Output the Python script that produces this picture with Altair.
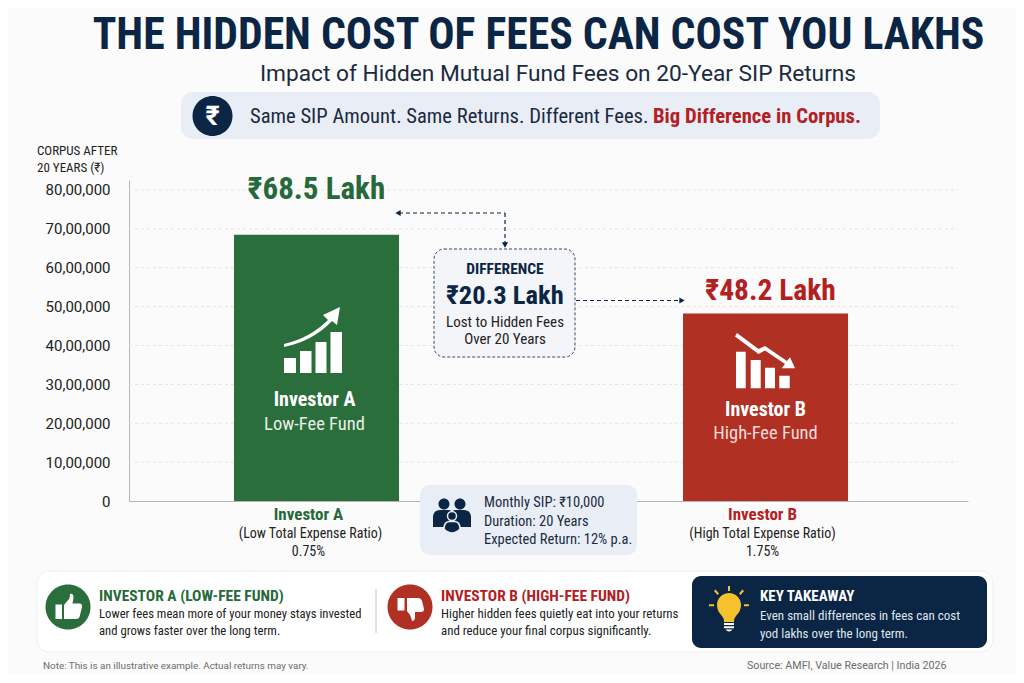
import altair as alt
import pandas as pd

# ---------- data ----------
investors = ["Investor A", "Investor B"]
corpus = [6850000, 4820000]
y_ticks = [0, 1000000, 2000000, 3000000, 4000000, 5000000, 6000000, 7000000, 8000000]

TITLE = "THE HIDDEN COST OF FEES CAN COST YOU LAKHS"
SUBTITLE = "Impact of Hidden Mutual Fund Fees on 20-Year SIP Returns"

# ---------- look ----------
NAVY = "#0b2545"
GREEN = "#2a6e3b"
GREEN_T = "#26693a"
RED = "#b03024"
RED_T = "#b3201f"
PILL = "#e9eef6"
BG = "#fbfbfb"
FONT = "Roboto Condensed"
FONT2 = "Roboto"
PX, PY = 129, 180      # plot origin in page-less picture coordinates
W, H = 839, 321

one = alt.Data(values=[{"k": 1}])


def xv(v):
    return alt.value(v - PX)


def yv(v):
    return alt.value(v - PY)


def text(s, x, y, size, color, weight="normal", align="left", font=FONT):
    return alt.Chart(one).mark_text(
        text=s, align=align, baseline="middle", fontSize=size, color=color,
        fontWeight=weight, font=font
    ).encode(x=xv(x), y=yv(y + 0.5))


def box(x0, x1, y0, y1, fill, r=10, stroke=None, dash=None, sw=1):
    kw = dict(fill=fill, cornerRadius=r)
    if stroke:
        kw.update(stroke=stroke, strokeWidth=sw)
    if dash:
        kw.update(strokeDash=dash)
    return alt.Chart(one).mark_rect(**kw).encode(x=xv(x0), x2=xv(x1), y=yv(y0), y2=yv(y1))


def icon(path, x, y, fill, stroke=None, sw=1):
    kw = dict(shape=path, size=4, filled=True, fill=fill, opacity=1)
    kw["stroke"] = stroke if stroke else fill
    kw["strokeWidth"] = sw if stroke else 0
    return alt.Chart(one).mark_point(**kw).encode(x=xv(x), y=yv(y))


def disc(cx, cy, r):
    return f"M{cx-r} {cy}a{r} {r} 0 1 0 {2*r} 0a{r} {r} 0 1 0 {-2*r} 0Z"


def hline(x0, x1, y, color=NAVY, dash=(4, 3), sw=1.2):
    return alt.Chart(one).mark_rule(color=color, strokeDash=list(dash), strokeWidth=sw).encode(
        x=xv(x0), x2=xv(x1), y=yv(y))


def vline(x, y0, y1, color=NAVY, dash=(4, 3), sw=1.2):
    return alt.Chart(one).mark_rule(color=color, strokeDash=list(dash), strokeWidth=sw).encode(
        x=xv(x), y=yv(y0), y2=yv(y1))


def arrow(shape, x, y):
    return alt.Chart(one).mark_point(shape=shape, size=38, filled=True, fill=NAVY, opacity=1, strokeWidth=0).encode(
        x=xv(x), y=yv(y))


df = pd.DataFrame({"investor": investors, "corpus": corpus})
tick_df = pd.DataFrame({"t": y_ticks})

x_scale = alt.Scale(domain=investors, paddingInner=0.6325, paddingOuter=0.2505, align=0.4667)
x_enc = alt.X(
    "investor:N", title=None, sort=investors, scale=x_scale,
    axis=alt.Axis(labels=False, ticks=False, domainColor="#b5b5b5", domainWidth=1.2, grid=False),
)
y_scale = alt.Scale(domain=[0, 8257000], nice=False, zero=True)

grid = alt.Chart(tick_df).transform_filter("datum.t > 0").mark_rule(
    color="#e4e4e4", strokeDash=[3, 3], strokeWidth=1
).encode(
    y=alt.Y("t:Q", scale=y_scale, title=None, axis=alt.Axis(
        values=y_ticks, ticks=False, grid=False, domainColor="#b5b5b5", domainWidth=1,
        labelPadding=19, labelFontSize=15, labelFont=FONT2, labelColor="#222222",
        labelExpr="datum.value == 0 ? '0' : (datum.value / 1000000) + '0,00,000'")),
    x=alt.value(0), x2=alt.value(829),
)

bars = alt.Chart(df).mark_bar().encode(
    x=x_enc,
    y=alt.Y("corpus:Q", scale=y_scale),
    color=alt.Color("investor:N", legend=None,
                    scale=alt.Scale(domain=investors, range=[GREEN, RED])),
)


def bar_text(name, s, y, size, color, weight="normal", dx=0, font=FONT):
    return alt.Chart(df).transform_filter(f"datum.investor == '{name}'").mark_text(
        text=s, align="center", baseline="middle", fontSize=size, color=color,
        fontWeight=weight, font=font, dx=dx
    ).encode(x=alt.X("investor:N", scale=x_scale, sort=investors), y=yv(y + 0.5))


UP_ICON = ("M-29 18H-17V33H-29Z M-13 11H-1.5V33H-13Z M2.5 2H13.5V33H2.5Z M17.5 -8H29V33H17.5Z "
           "M-29 7L-29 4Q-3 -2 15 -20L10 -25L27 -33L24 -15L19 -19Q0 1 -29 7Z")
DOWN_ICON = ("M-27 -10.3H-17.3V26.3H-27Z M-12.3 -2H-2.3V26.3H-12.3Z M2 5.7H12V26.3H2Z M16.3 13.7H26.7V26.3H16.3Z "
             "M-26 -29L-4.5 -13L2 -16L24 -1L27 -4.7L32 6.3L18.7 6.3L22 2L2 -11.5L-4.5 -8L-28 -25.5Z")
THUMB_UP = ("M-12.5 -2.5H-6V12H-12.5Z "
            "M-4 -2L1 -8Q2 -10 2 -13Q5.5 -14 5.5 -9L4.5 -3.5L12 -3.5Q14.5 -3 14 0L11.5 10Q11 12 8 12L-4 12Z")
THUMB_DOWN = ("M-12.5 -9H-5.5V3.5H-12.5Z "
              "M-3 -9L8 -9Q11 -9 12 -6L14 2Q14 5 11 5L5 5L5 10Q5 14 2 14Q1 10 0 8L-3 4Z")
PEOPLE_BACK = (disc(-8, -10, 5.5) + disc(8, -10, 5.5) +
               "M-19 13V2Q-18 -4 -12 -4H-4Q0 -4 0 -1Q0 -4 4 -4H12Q18 -4 19 2V13Z")
PEOPLE_FRONT = disc(0, 2, 4.5) + "M-8 15Q-8 8 -3 7.5H3Q8 8 8 15Q4 19 0 19Q-4 19 -8 15Z"
BULB = ("M-12 -2A12 12 0 1 1 12 -2Q12 4 7 9Q5 11 5 15L-5 15Q-5 11 -7 9Q-12 4 -12 -2Z "
        "M-1 -21H1V-16H-1Z M-20 -2.7H-15V-0.7H-20Z M15 -2.7H20V-0.7H15Z "
        "M-15 -16L-13.5 -17.5L-10 -13.5L-11.5 -12Z M15 -16L13.5 -17.5L10 -13.5L11.5 -12Z")
BULB_BASE = "M-5 16H5V18H-5Z M-5 19.3H5V21.3H-5Z M-3.5 22.5H3.5Q2 24.5 0 24.5Q-2 24.5 -3.5 22.5Z"

layers = [
    grid,
    bars,
    # header
    text(TITLE, 538.5, 35, 43.7, NAVY, "bold", "center"),
    text(SUBTITLE, 558, 73, 22.7, "#1a2a3f", "normal", "center", FONT2),
    box(181, 880, 92, 139, PILL, 12),
    icon(disc(0, 0, 20), 212.5, 116, NAVY),
    text("₹", 212.5, 116, 27, "#ffffff", "bold", "center", FONT2),
    text("Same SIP Amount. Same Returns. Different Fees.", 250, 116, 20.6, "#1a2a3f"),
    text("Big Difference in Corpus.", 653, 116, 20.7, RED_T, "bold"),
    # axis title
    text("CORPUS AFTER", 37, 150, 13, "#222222"),
    text("20 YEARS (₹)", 37, 167, 13, "#222222"),
    # value labels
    bar_text("Investor A", "₹68.5 Lakh", 189, 31, GREEN_T, "bold"),
    bar_text("Investor B", "₹48.2 Lakh", 290, 29.5, RED_T, "bold", dx=5),
    # difference callout
    hline(399, 505, 213),
    vline(505, 213, 243),
    arrow("triangle-left", 398, 213),
    arrow("triangle-down", 505, 245),
    box(434, 575, 249, 357, "#f4f5f8", 10, "#3b4a60", [3, 2], 1),
    hline(576, 680, 300.5),
    arrow("triangle-right", 682, 300.5),
    text("DIFFERENCE", 505, 268.5, 15.5, NAVY, "bold", "center"),
    text("₹20.3 Lakh", 505, 295, 26.5, NAVY, "bold", "center"),
    text("Lost to Hidden Fees", 505, 321.5, 15, "#222222", "normal", "center"),
    text("Over 20 Years", 505, 338.5, 15, "#222222", "normal", "center"),
    # in-bar content
    icon(UP_ICON, 313, 340, "#ffffff"),
    bar_text("Investor A", "Investor A", 399, 20, "#ffffff", "bold", dx=-2),
    bar_text("Investor A", "Low-Fee Fund", 423, 18.5, "#e7efe8", "normal", dx=-2),
    icon(DOWN_ICON, 763, 362, "#ffffff"),
    bar_text("Investor B", "Investor B", 409, 20, "#ffffff", "bold"),
    bar_text("Investor B", "High-Fee Fund", 432, 18.5, "#f4dcd8", "normal"),
    # under-bar labels
    bar_text("Investor A", "Investor A", 514, 17, GREEN_T, "bold", dx=-8),
    bar_text("Investor A", "(Low Total Expense Ratio)", 533, 14, "#222222", "normal", dx=-6),
    bar_text("Investor A", "0.75%", 551, 14, "#222222", "normal", dx=-8),
    bar_text("Investor B", "Investor B", 514, 17, RED_T, "bold", dx=-3),
    bar_text("Investor B", "(High Total Expense Ratio)", 533, 14, "#222222", "normal", dx=-3),
    bar_text("Investor B", "1.75%", 551, 14, "#222222", "normal", dx=-3),
    # assumptions box
    box(420, 637, 485, 555, PILL, 10),
    icon(PEOPLE_BACK, 452, 514, NAVY),
    icon(PEOPLE_FRONT, 452, 514, NAVY, PILL, 1.5),
    text("Monthly SIP: ₹10,000", 484, 502, 14.5, "#1a2a3f"),
    text("Duration: 20 Years", 484, 521, 14.5, "#1a2a3f"),
    text("Expected Return: 12% p.a.", 484, 539, 14.5, "#1a2a3f"),
    # bottom panel
    box(37, 993, 571, 652, "#ffffff", 12, "#eeeeee", None, 1),
    icon(disc(0, 0, 22.5), 68, 607, GREEN),
    icon(THUMB_UP, 68, 607, "#ffffff"),
    text("INVESTOR A (LOW-FEE FUND)", 99, 595, 15.5, GREEN_T, "bold"),
    text("Lower fees mean more of your money stays invested", 99, 613, 12.7, "#222222"),
    text("and grows faster over the long term.", 99, 630, 12.7, "#222222"),
    vline(376, 589, 633, "#c4c4c4", (1, 0), 1),
    icon(disc(0, 0, 22.5), 410, 607, RED),
    icon(THUMB_DOWN, 410, 607, "#ffffff"),
    text("INVESTOR B (HIGH-FEE FUND)", 441, 595, 15.5, RED_T, "bold"),
    text("Higher hidden fees quietly eat into your returns", 441, 613, 12.9, "#222222"),
    text("and reduce your final corpus significantly.", 441, 630, 12.9, "#222222"),
    box(692, 987, 576, 648, "#0b2545", 9),
    icon(BULB, 729, 607, "#f6c12d"),
    icon(BULB_BASE, 729, 607, "#ffffff"),
    text("KEY TAKEAWAY", 760, 595, 15, "#ffffff", "bold"),
    text("Even small differences in fees can cost", 760, 615, 13, "#dfe5ee"),
    text("yod lakhs over the long term.", 760, 633, 13, "#dfe5ee"),
    # footer
    text("Note: This is an illustrative example. Actual returns may vary.", 43, 665, 9.9, "#6b6b6b", "normal", "left", FONT2),
    text("Source: AMFI, Value Research  |  India 2026", 747, 665, 10.7, "#6b6b6b", "normal", "left", FONT2),
]

chart = alt.layer(*layers).resolve_scale(x="shared", y="shared").properties(
    width=W, height=H,
    background=BG,
    padding={"left": PX - 8, "top": PY - 8, "right": 1008 - (PX - 8) - W, "bottom": 667 - (PY - 8) - H},
    autosize=alt.AutoSizeParams(type="none", contains="content"),
).configure_view(stroke=None)

chart.save("out.html", embed_options={"renderer": "svg", "actions": False})
